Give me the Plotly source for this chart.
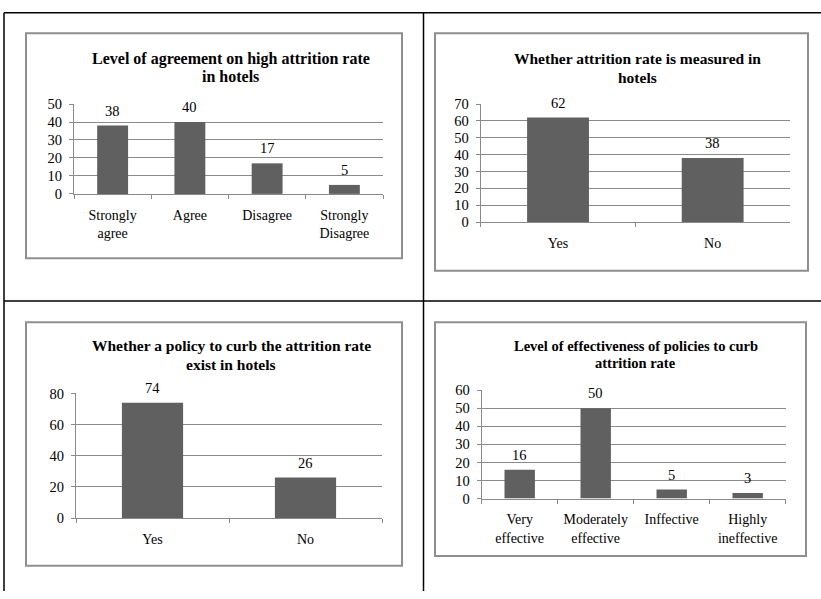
import plotly.graph_objects as go

W, H = 821, 599

# ---- data ----
cats1 = ["Strongly<br>agree", "Agree", "Disagree", "Strongly<br>Disagree"]
vals1 = [38, 40, 17, 5]
title1 = "Level of agreement on high attrition rate<br>in hotels"

cats2 = ["Yes", "No"]
vals2 = [62, 38]
title2 = "Whether attrition rate is measured in<br>hotels"

cats3 = ["Yes", "No"]
vals3 = [74, 26]
title3 = "Whether a policy to curb the attrition rate<br>exist in hotels"

cats4 = ["Very<br>effective", "Moderately<br>effective", "Inffective", "Highly<br>ineffective"]
vals4 = [16, 50, 5, 3]
title4 = "Level of effectiveness of policies to curb<br>attrition rate"

ymax = [50, 70, 80, 60]
ydt = [10, 10, 20, 10]

# ---- layout geometry (pixels) ----
def px(x):
    return x / W

def py(y):
    return 1 - y / H

plots = [
    # (x0, x1, y_bottom, y_top, box(x0,y0,x1,y1), title_line_ys, title_size)
    (74, 383, 191, 98.7, (26, 26, 402, 257), (52, 70), 16),
    (480.7, 790, 220, 98.7, (435, 26, 808, 270), (52, 71), 15.5),
    (76, 382, 524, 396, (26, 323, 402, 573), (347, 366), 15.5),
    (481.7, 785.7, 504, 392.7, (435, 323, 806, 563), (347, 365), 14.5),
]

FONT = "Liberation Serif"
BAR = "#606060"
GRID = "#8a8a8a"
BOX = "#8e8e8e"

fig = go.Figure()
datasets = [(cats1, vals1, title1), (cats2, vals2, title2), (cats3, vals3, title3), (cats4, vals4, title4)]

shapes = []
annotations = []
for i, ((cats, vals, title), geo) in enumerate(zip(datasets, plots)):
    n = "" if i == 0 else str(i + 1)
    x0, x1, yb, yt, box, tys, ts = geo
    fig.add_trace(go.Bar(
        x=cats, y=vals, xaxis="x" + n, yaxis="y" + n,
        marker=dict(color=BAR, line=dict(width=0)),
        showlegend=False, width=0.4, hoverinfo="x+y",
    ))
    for c, v in zip(cats, vals):
        annotations.append(dict(
            x=c, y=v, xref="x" + n, yref="y" + n, text=str(v), showarrow=False,
            xanchor="center", yanchor="middle", yshift=15,
            font=dict(family=FONT, size=14.5, color="#000000"),
        ))
    fig.update_layout(**{
        "xaxis" + n: dict(
            domain=[px(x0), px(x1)], anchor="y" + n,
            showline=True, linecolor=GRID, linewidth=1,
            ticks="outside", tickson="boundaries", ticklen=4, tickcolor=GRID,
            showgrid=False, tickfont=dict(family=FONT, size=14, color="#000000"),
            ticklabelstandoff=8, fixedrange=True,
        ),
        "yaxis" + n: dict(
            domain=[py(yb), py(yt)], anchor="x" + n,
            range=[0, ymax[i]], dtick=ydt[i], tick0=0,
            showline=True, linecolor=GRID, linewidth=1,
            showgrid=True, gridcolor=GRID, gridwidth=1, zeroline=False,
            ticks="outside", ticklen=4, tickcolor=GRID,
            tickfont=dict(family=FONT, size=14.5, color="#000000"),
            ticklabelstandoff=4, fixedrange=True,
        ),
    })
    bx0, by0, bx1, by1 = box
    shapes.append(dict(type="rect", xref="paper", yref="paper",
                       x0=px(bx0), x1=px(bx1), y0=py(by1), y1=py(by0),
                       line=dict(color=BOX, width=2), fillcolor="rgba(0,0,0,0)", layer="below"))
    for line_text, ly in zip(title.split("<br>"), tys):
        annotations.append(dict(
            text="<b>" + line_text + "</b>", xref="paper", yref="paper",
            x=px((x0 + x1) / 2 + 2), y=py(ly), xanchor="center", yanchor="middle",
            showarrow=False, font=dict(family=FONT, size=ts, color="#000000"),
        ))

# table lines
for (ax0, ay0, ax1, ay1) in [(4, 5, 821, 5), (4, 301, 821, 301), (4, 5, 4, 599), (423.5, 5, 423.5, 599)]:
    shapes.append(dict(type="line", xref="paper", yref="paper",
                       x0=px(ax0), x1=px(ax1), y0=py(ay0), y1=py(ay1),
                       line=dict(color="#000000", width=1.5)))

fig.update_layout(
    width=W, height=H, margin=dict(l=0, r=0, t=0, b=0),
    paper_bgcolor="white", plot_bgcolor="white",
    shapes=shapes, annotations=annotations, bargap=0.6,
    font=dict(family=FONT, size=14, color="#000000"),
)

fig.write_html(
    "out.html",
    config={"displayModeBar": False},
    post_script="document.documentElement.style.margin='0';document.body.style.margin='0';document.body.style.padding='0';document.body.style.overflow='hidden';",
)
